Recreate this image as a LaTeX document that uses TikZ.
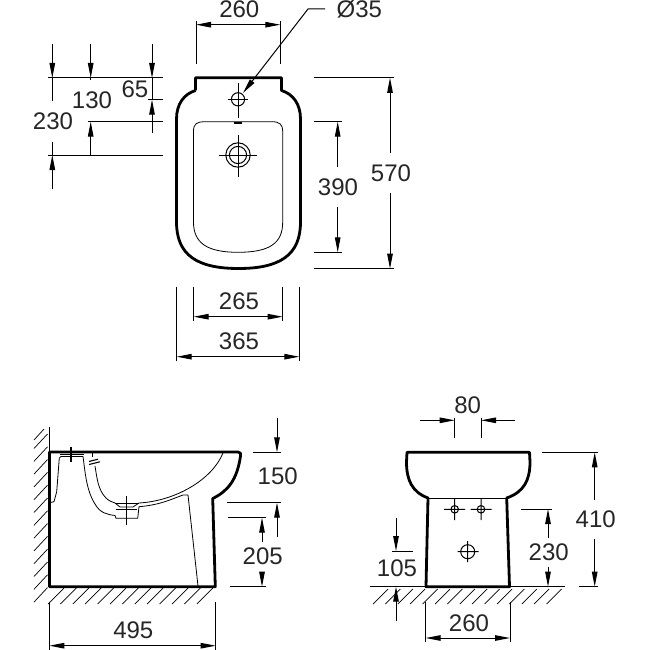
\documentclass[tikz,border=0pt]{standalone}
\usepackage{fontspec}
\setmainfont{Liberation Sans}
\usetikzlibrary{arrows.meta}
\tikzset{
  thin line/.style={line width=1pt,line cap=butt},
  thick outline/.style={line width=2.8pt,line join=round,line cap=round},
  fine/.style={line width=0.8pt,line join=round},
  dim/.style={line width=1pt,-{Stealth[length=15pt,width=5.5pt,inset=0pt]}},
  dimboth/.style={line width=1pt,{Stealth[length=15pt,width=5.5pt,inset=0pt]}-{Stealth[length=15pt,width=5.5pt,inset=0pt]}},
  lab/.style={inner sep=0pt,font=\fontsize{24}{24}\selectfont,text=black!85},
  hatch/.style={line width=0.7pt}
}
\begin{document}
\begin{tikzpicture}[x=1pt,y=-1pt]
\useasboundingbox (0,0) rectangle (650,650);
\fill[white] (0,0) rectangle (650,650);
% ---------- top view
\draw[line width=2.8pt,line join=round]
 (195.5,90.5) -- (195.5,77.8) -- (281.5,77.8) -- (281.5,90.5)
 .. controls (293,94) and (300.5,104) .. (300.5,119)
 -- (300.5,222) .. controls (300.5,255) and (280,268.5) .. (238.5,268.5)
 .. controls (197,268.5) and (176.5,255) .. (176.5,222)
 -- (176.5,119) .. controls (176.5,104) and (184,94) .. (195.5,90.5);
\draw[fine] (193.5,131) .. controls (193.5,124) and (197,121.7) .. (204,121.7)
 -- (272,121.7) .. controls (280,121.7) and (282.7,125) .. (282.7,131)
 -- (282.7,222) .. controls (282.7,243) and (270,252.3) .. (238,252.3)
 .. controls (207,252.3) and (193.5,243) .. (193.5,222) -- cycle;
\draw[line width=2pt] (234,123.2) -- (242,123.2);
\draw[thin line] (238,83) -- (238,118) (228,99.3) -- (248,99.3);
\draw[thin line] (238,99.3) circle (6.6);
\draw[thin line] (238,135) -- (238,177) (219,155) -- (257,155);
\draw[thin line] (238,155) circle (12.2) (238,155) circle (8.6);
% 260
\coordinate (a1) at (196,24.7); \coordinate (a2) at (280.3,24.7);
\draw[thin line] (196,21) -- (196,64) (280.3,21) -- (280.3,64);
\draw[dimboth] (a1) -- (a2);
\node[lab] (t260a) at (239.3,9.5) {260};
% dia 35
\node[lab,anchor=west] (tdia) at (336.5,9.5) {Ø35};
\coordinate (l1) at (325,9); \coordinate (l2) at (308,9); \coordinate (l3) at (243,93);
\draw[dim] (l1) -- (l2) -- (l3);
% 570
\draw[thin line] (314,77.8) -- (394,77.8) (314,268.7) -- (394,268.7);
\coordinate (b1) at (390,153); \coordinate (b2) at (390,193);
\draw[dim] (b1) -- (390,77.8); \draw[dim] (b2) -- (390,268.7);
\node[lab] (t570) at (391,173) {570};
% 390
\draw[thin line] (314,121.7) -- (341.7,121.7) (314,252.3) -- (341.7,252.3);
\coordinate (c1) at (337.7,167); \coordinate (c2) at (337.7,207);
\draw[dim] (c1) -- (337.7,121.7); \draw[dim] (c2) -- (337.7,252.3);
\node[lab] (t390) at (338,187) {390};
% left stack
\draw[thin line] (48,78) -- (162.7,78) (148,99.7) -- (162.7,99.7) (87.7,121.7) -- (162.7,121.7) (48,155) -- (162.7,155);
\draw[dim] (52.3,44) -- (52.3,78); \draw[dim] (90.7,44) -- (90.7,78); \draw[dim] (152,44) -- (152,78);
\draw[thin line] (52.3,78) -- (52.3,101) (52.3,142) -- (52.3,155) (152,78) -- (152,99.7) (90.7,78) -- (90.7,80);
\draw[dim] (52.3,189) -- (52.3,155); \draw[dim] (90.7,155) -- (90.7,121.7); \draw[dim] (152,133) -- (152,99.7);
\node[lab] (t65) at (135,89) {65};
\node[lab] (t130) at (92,100) {130};
\node[lab] (t230a) at (53,121.7) {230};
% 265, 365
\draw[thin line] (176.7,286.7) -- (176.7,360.7) (299.3,286.7) -- (299.3,360.7) (193.7,286.7) -- (193.7,320.7) (282.7,286.7) -- (282.7,320.7);
\draw[dimboth] (193.7,316.7) -- (282.7,316.7);
\draw[dimboth] (176.7,356.7) -- (299.3,356.7);
\node[lab] (t265) at (239,301.7) {265};
\node[lab] (t365) at (239,341) {365};
% ---------- side view
\draw[thin line] (49,427) -- (49,452);
\draw[hatch] (44,429) -- (34,440);
\foreach \y in {434,446.8,...,590}{\draw[hatch] (47.5,\y) -- (34,\y+14.5);}
\foreach \x in {64,76.4,...,214}{\draw[hatch] (\x,588) -- (\x-16,604);}
\draw[thick outline] (49.5,452) -- (238,452) .. controls (241,452) and (241,454) .. (240.5,456)
 .. controls (237,480) and (228,491) .. (212.7,498.5) -- (215.3,586.7) -- (49.5,586.7) -- cycle;
% interior
\draw[fine] (50,502.7) -- (54,501.7) -- (56.7,491.7) -- (59.3,458) -- (61,456.5) -- (83,456.5)
 .. controls (85,470) and (86,490) .. (95,504) .. controls (100,513) and (107,514.5) .. (115,515.5)
 -- (116,518.3) -- (137.7,518.3) -- (139,506.7)
 .. controls (160,505) and (172,499) .. (183,495) -- (188,495) -- (198,586);
\draw[fine] (95,466) .. controls (97,478) and (98,490) .. (106,498)
 .. controls (109,501) and (112,502) .. (115,503) -- (120,507) -- (133,507) -- (139,503)
 .. controls (175,501) and (212,480) .. (223,453);
\draw[fine] (115,503) -- (139,503);
\draw[fine] (92,452.5) -- (92,457);
\draw[line width=1.1pt] (89,464.5) -- (100,461.8) (89,461.5) -- (98,459.2);
\draw[line width=1.2pt] (71,446.5) -- (71,461.5);
\draw[fine] (60,454.5) -- (84,454.5);
\draw[thin line] (126.7,496) -- (126.7,525) (116,509.5) -- (137,509.5);
% 150
\draw[thin line] (252.7,452.3) -- (280.7,452.3) (226.7,502.7) -- (280.7,502.7);
\draw[dim] (277,418.3) -- (277,452.3);
\draw[dim] (277,536.7) -- (277,502.7);
\node[lab] (t150) at (277.7,476.7) {150};
% 205
\draw[thin line] (227.7,517.7) -- (265.7,517.7) (230,586.7) -- (265.7,586.7);
\draw[dim] (262,541.7) -- (262,517.7);
\draw[dim] (262,572.7) -- (262,586.7);
\node[lab] (t205) at (262.7,556.7) {205};
% 495
\draw[thin line] (49.3,601.7) -- (49.3,650) (215.7,601.7) -- (215.7,650);
\draw[dimboth] (49.3,645.7) -- (215.7,645.7);
\node[lab] (t495) at (133.3,630) {495};
% ---------- front view
\draw[thin line] (370,586.7) -- (565,586.7);
\foreach \x in {388,400.4,...,565}{\draw[hatch] (\x,589) -- (\x-15,604);}
\draw[thick outline] (407,452.3) -- (529.5,452.3) -- (530,462)
 .. controls (530,480) and (524,492) .. (506.7,498)
 -- (509.5,586.7) -- (426,586.7) -- (428,498)
 .. controls (412,492) and (406.5,480) .. (406.5,462) -- cycle;
\draw[fine] (428,498.5) -- (506.7,498.5);
\draw[thin line] (454.7,499) -- (454.7,520) (444,509.3) -- (465,509.3) (454.7,509.3) circle (3.8);
\draw[thin line] (481,499) -- (481,520) (470.7,509.3) -- (491.7,509.3) (481,509.3) circle (3.8);
\draw[thin line] (467.7,541) -- (467.7,562) (457.5,551.7) -- (478.5,551.7) (467.7,551.7) circle (7);
% 80
\draw[thin line] (454.7,418) -- (454.7,437.7) (481,418) -- (481,437.7);
\draw[dim] (420,420.3) -- (454.7,420.3);
\draw[dim] (515,420.3) -- (481,420.3);
\node[lab] (t80) at (467.7,405) {80};
% 410
\draw[thin line] (541.7,452.3) -- (598,452.3) (579,586.7) -- (598,586.7);
\draw[dim] (594.7,500) -- (594.7,452.3);
\draw[dim] (594.7,539) -- (594.7,586.7);
\node[lab] (t410) at (595.7,519) {410};
% 230
\draw[thin line] (521,509) -- (551.7,509);
\draw[dim] (548,537.7) -- (548,509);
\draw[dim] (548,566.7) -- (548,586.7);
\node[lab] (t230b) at (548.7,552.3) {230};
% 105
\draw[thin line] (392,551) -- (412.7,551);
\draw[dim] (396,517.7) -- (396,551);
\draw[dim] (396,620.7) -- (396,586.7);
\node[lab] (t105) at (397,568) {105};
% 260
\draw[thin line] (425.7,601.7) -- (425.7,642) (510,601.7) -- (510,642);
\draw[dimboth] (425.7,638) -- (510,638);
\node[lab] (t260b) at (469,623) {260};
\end{tikzpicture}
\end{document}
